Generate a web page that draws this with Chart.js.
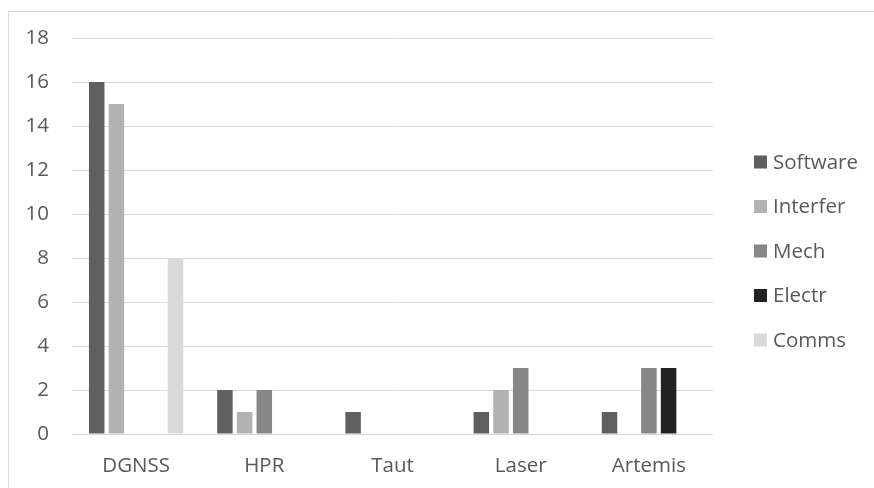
<!DOCTYPE html>
<html>
<head>
<meta charset="utf-8">
<script src="https://cdn.jsdelivr.net/npm/chart.js@4/dist/chart.umd.min.js"></script>
<style>
  html, body { margin: 0; padding: 0; background: #ffffff; }
  #wrap { position: absolute; left: 0; top: 0; width: 874px; height: 488px; }
</style>
</head>
<body>
<div id="wrap"><canvas id="c" width="874" height="488"></canvas></div>
<script>
// Fault counts per positioning system, split by cause
const categories = ['DGNSS', 'HPR', 'Taut', 'Laser', 'Artemis'];
const seriesNames = ['Software', 'Interfer', 'Mech', 'Electr', 'Comms'];
const software = [16, 2, 1, 1, 1];
const interfer = [15, 1, 0, 2, 0];
const mech     = [0, 2, 0, 3, 3];
const electr   = [0, 0, 0, 0, 3];
const comms    = [8, 0, 0, 0, 0];
const yTicks   = [0, 2, 4, 6, 8, 10, 12, 14, 16, 18];

const seriesValues = [software, interfer, mech, electr, comms];
const seriesColors = ['#5f5f5f', '#b2b2b2', '#878787', '#222222', '#d9d9d9'];

const FONT = { family: '"Open Sans", sans-serif', size: 20.5 };
const TEXT = '#595959';

// Light frame around the chart, open at the right and bottom
const framePlugin = {
  id: 'frame',
  beforeDraw(chart) {
    const ctx = chart.ctx;
    ctx.save();
    ctx.fillStyle = '#ffffff';
    ctx.fillRect(0, 0, chart.width, chart.height);
    ctx.strokeStyle = '#d9d9d9';
    ctx.lineWidth = 1;
    ctx.strokeRect(8.5, 11.5, chart.width + 20, chart.height + 20);
    ctx.restore();
  }
};

// Vertical legend with square swatches to the right of the plot
const sideLegend = {
  id: 'sideLegend',
  afterDraw(chart) {
    const ctx = chart.ctx;
    const area = chart.chartArea;
    const x = area.right + 41;
    const y0 = area.top + 124;
    const step = 44.5;
    ctx.save();
    ctx.font = FONT.size + 'px ' + FONT.family;
    ctx.textBaseline = 'middle';
    ctx.textAlign = 'left';
    chart.data.datasets.forEach((ds, i) => {
      const cy = y0 + i * step;
      ctx.fillStyle = ds.backgroundColor;
      ctx.fillRect(x, cy - 6.5, 13, 13);
      ctx.fillStyle = TEXT;
      ctx.fillText(ds.label, x + 19, cy + 1);
    });
    ctx.restore();
  }
};

new Chart(document.getElementById('c'), {
  type: 'bar',
  data: {
    labels: categories,
    datasets: seriesNames.map((name, i) => ({
      label: name,
      data: seriesValues[i],
      backgroundColor: seriesColors[i],
      borderWidth: 0,
      categoryPercentage: 0.768,
      barPercentage: 0.787
    }))
  },
  options: {
    responsive: false,
    animation: false,
    layout: { padding: { left: 0, right: 161, top: 38, bottom: 0 } },
    plugins: {
      legend: { display: false },
      tooltip: { enabled: false }
    },
    scales: {
      x: {
        grid: { display: false, drawTicks: false },
        border: { display: false },
        ticks: { color: TEXT, font: FONT, padding: 20, maxRotation: 0 },
        afterFit(scale) { scale.height = 54; }
      },
      y: {
        min: 0,
        max: 18,
        afterBuildTicks(scale) { scale.ticks = yTicks.map(v => ({ value: v })); },
        grid: { color: '#d9d9d9', lineWidth: 1, drawTicks: false },
        border: { display: false },
        ticks: { color: TEXT, font: FONT, padding: 23 },
        afterFit(scale) { scale.width = 72; }
      }
    }
  },
  plugins: [framePlugin, sideLegend]
});
</script>
</body>
</html>
